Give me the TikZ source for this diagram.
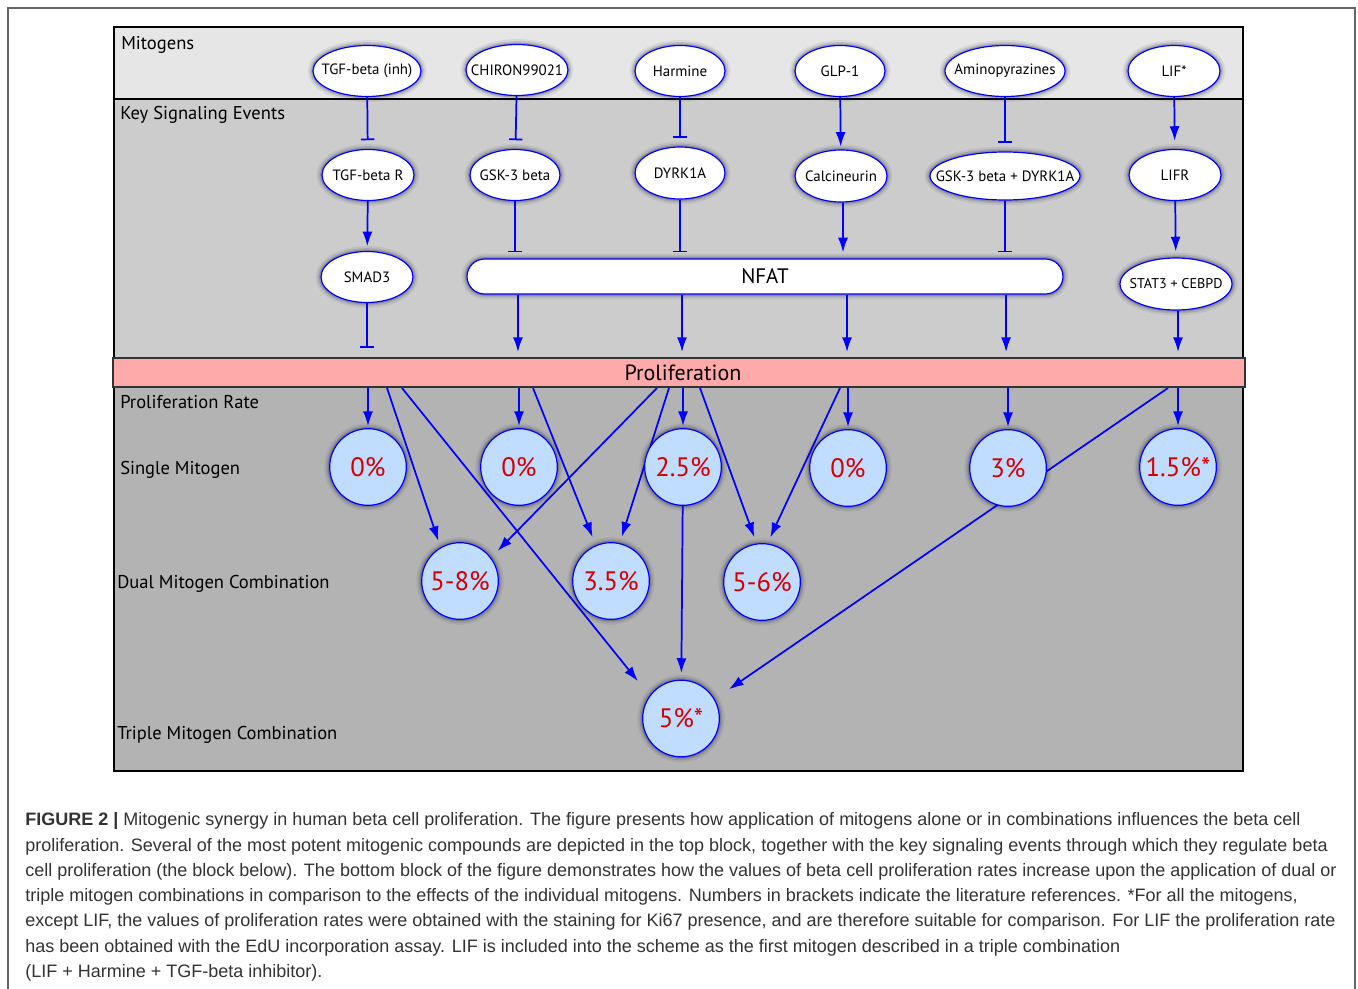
\documentclass[tikz,border=0pt]{standalone}
\usepackage{fontspec}
\setmainfont{Liberation Sans}
\newfontfamily\diag{PT Sans}
\usetikzlibrary{arrows.meta,shapes.geometric,shapes.misc}
\definecolor{topgray}{HTML}{E6E6E6}
\definecolor{midgray}{HTML}{CCCCCC}
\definecolor{botgray}{HTML}{B3B3B3}
\definecolor{prolifpink}{HTML}{FFAAAA}
\definecolor{circblue}{HTML}{C0DCFF}
\definecolor{pctred}{HTML}{D40000}
\definecolor{linkblue}{HTML}{0000FF}
\definecolor{captext}{HTML}{333333}
\definecolor{glowcol}{HTML}{1A1A40}
\newcommand\zw[1]{\makebox[0pt][c]{#1}}
\pgfdeclarelayer{back}
\pgfdeclarelayer{lines}
\pgfsetlayers{back,lines,main}
\begin{document}
\begin{tikzpicture}[x=0.75pt,y=-0.75pt,
  glow/.style={preaction={draw=glowcol,draw opacity=0.08,line width=8pt},
               preaction={draw=glowcol,draw opacity=0.13,line width=5pt},
               preaction={draw=glowcol,draw opacity=0.18,line width=2.8pt}},
  ell/.style={ellipse,draw=linkblue,line width=0.9pt,fill=white,inner sep=0pt,minimum height=38.25pt,font=\diag\fontsize{11.2}{13}\selectfont,glow},
  pct/.style={circle,draw=linkblue,line width=0.9pt,fill=circblue,inner sep=0pt,minimum size=57.5pt,text=pctred,font=\diag\fontsize{20}{22}\selectfont,glow},
  act/.style={draw=linkblue,line width=1.3pt,-{Latex[length=11pt,width=7.5pt]}},
  inh/.style={draw=linkblue,line width=1.3pt,-{Bar[width=10pt,line width=1.3pt]}},
  blocklabel/.style={anchor=base west,inner sep=0pt,font=\diag\fontsize{13.9}{16}\selectfont},
  caption/.style={anchor=base west,inner sep=0pt,text=captext,font=\fontsize{13.5}{16}\selectfont},
]
\useasboundingbox (0,0) rectangle (1358,988);
\begin{pgfonlayer}{back}
\fill[white] (0,0) rectangle (1358,988);
\draw[black!60,line width=1.5pt] (8,990) -- (8,8) -- (1355,8) -- (1355,990);
\draw[fill=topgray,line width=1.5pt] (114,27) rectangle (1243,99);
\draw[fill=midgray,line width=1.5pt] (114,99) rectangle (1243,358);
\draw[fill=botgray,line width=1.5pt] (114,387) rectangle (1243,771);
\end{pgfonlayer}

% Proliferation bar
\node[rectangle,draw=black!80,line width=1pt,fill=prolifpink,minimum width=849pt,minimum height=21.75pt,inner sep=0pt,font=\diag\fontsize{16.5}{18}\selectfont] (prolif) at (679,372.5) {\hspace*{6pt}Proliferation};

% block labels
\node[blocklabel] (lab1) at (121,50) {Mitogens};
\node[blocklabel] (lab2) at (120,120) {Key Signaling Events};
\node[blocklabel] (lab3) at (120,408) {Proliferation Rate};
\node[blocklabel] (lab4) at (120,474) {Single Mitogen};
\node[blocklabel] (lab5) at (117,588) {Dual Mitogen Combination};
\node[blocklabel] (lab6) at (117,739) {Triple Mitogen Combination};

% mitogens
\node[ell,minimum width=81pt] (m1) at (367,71) {\zw{TGF-beta (inh)}};
\node[ell,minimum width=76.5pt] (m2) at (517,70) {\zw{CHIRON99021}};
\node[ell,minimum width=67.5pt] (m3) at (680,71) {\zw{Harmine}};
\node[ell,minimum width=67.5pt] (m4) at (840,71) {\zw{GLP-1}};
\node[ell,minimum width=90pt] (m5) at (1005,71) {\zw{Aminopyrazines}};
\node[ell,minimum width=69pt] (m6) at (1174,71) {\zw{LIF*}};

% key signaling
\node[ell,minimum width=69pt] (k1) at (368,175) {\zw{TGF-beta R}};
\node[ell,minimum width=67.5pt] (k2) at (515,175) {\zw{GSK-3 beta}};
\node[ell,minimum width=67.5pt,minimum height=39pt] (k3) at (680,173) {\zw{DYRK1A}};
\node[ell,minimum width=69pt,minimum height=39pt] (k4) at (841,176) {\zw{Calcineurin}};
\node[ell,minimum width=112.5pt,minimum height=36pt] (k5) at (1005,176) {\zw{GSK-3 beta + DYRK1A}};
\node[ell,minimum width=69pt] (k6) at (1175,175) {\zw{LIFR}};

\node[ell,minimum width=69pt] (s1) at (367,277) {\zw{SMAD3}};
\node[rounded rectangle,draw=linkblue,line width=0.9pt,fill=white,inner sep=0pt,minimum width=447pt,minimum height=26.25pt,font=\diag\fontsize{15.7}{18}\selectfont,glow] (nfat) at (765,276.5) {NFAT};
\node[ell,minimum width=84pt,minimum height=39pt,font=\diag\fontsize{10.6}{12}\selectfont] (s3) at (1176,284) {\zw{STAT3 + CEBPD}};

% rate circles
\node[pct] (p1) at (368,467) {0\%};
\node[pct] (p2) at (519,467) {0\%};
\node[pct] (p3) at (683,467) {2.5\%};
\node[pct] (p4) at (848,468) {0\%};
\node[pct] (p5) at (1008,468) {3\%};
\node[pct] (p6) at (1178,467) {1.5\%*};
\node[pct] (d1) at (460,581) {5-8\%};
\node[pct] (d2) at (611,581) {3.5\%};
\node[pct] (d3) at (762,582) {5-6\%};
\node[pct] (tr) at (681,718.5) {5\%*};

% start points on the proliferation bar
\coordinate (a1) at (387,388);
\coordinate (a7) at (402,388);
\coordinate (a3) at (533,388);
\coordinate (a2) at (657,388);
\coordinate (a4) at (669,388);
\coordinate (a5) at (700,388);
\coordinate (a6) at (840,388);
\coordinate (a8) at (1168,388);

\begin{pgfonlayer}{lines}
% mitogens -> signaling
\draw[inh,shorten >=6.5pt] (m1) -- (k1);
\draw[inh,shorten >=6.5pt] (m2) -- (k2);
\draw[inh,shorten >=6.5pt] (m3) -- (k3);
\draw[act,shorten >=2pt] (m4) -- (k4);
\draw[inh,shorten >=6.5pt] (m5) -- (k5);
\draw[act,shorten >=6pt] (m6) -- (k6);
% signaling -> downstream
\draw[act,shorten >=3.5pt] (k1) -- (s1);
\draw[inh,shorten >=4.5pt] (k2.south) -- (k2.south |- nfat.north);
\draw[inh,shorten >=4.5pt] (k3.south) -- (k3.south |- nfat.north);
\draw[act,shorten >=4.5pt] ([xshift=1.5pt]k4.south) -- ([xshift=1.5pt]k4.south |- nfat.north);
\draw[inh,shorten >=4.5pt] (k5.south) -- (k5.south |- nfat.north);
\draw[act,shorten >=4.5pt] (k6) -- (s3);
% -> proliferation
\draw[inh,shorten >=7pt] (s1) -- (s1 |- prolif.north);
\draw[act,shorten >=4pt] ([xshift=2.2pt]k2.south |- nfat.south) -- ([xshift=2.2pt]k2.south |- prolif.north);
\draw[act,shorten >=4pt] ([xshift=1.5pt]k3.south |- nfat.south) -- ([xshift=1.5pt]k3.south |- prolif.north);
\draw[act,shorten >=4pt] ([xshift=4.5pt]k4.south |- nfat.south) -- ([xshift=4.5pt]k4.south |- prolif.north);
\draw[act,shorten >=4pt] ([xshift=0.8pt]k5.south |- nfat.south) -- ([xshift=0.8pt]k5.south |- prolif.north);
\draw[act,shorten >=4pt] ([xshift=1.5pt]s3.south) -- ([xshift=1.5pt]s3.south |- prolif.north);
% proliferation -> single
\foreach \c in {p1,p2,p3,p4,p5,p6}{
  \draw[act,shorten >=1.5pt] (prolif.south -| \c.north) -- (\c.north);
}
% dual combinations
\draw[act,shorten >=5pt] (a1) -- (d1.120);
\draw[act,shorten >=7pt] (a2) -- (d1.37);
\draw[act,shorten >=6.5pt] (a3) -- (d2.113);
\draw[act,shorten >=5pt] (a4) -- (d2.77);
\draw[act,shorten >=5pt] (a5) -- (d3.98);
\draw[act,shorten >=5pt] (a6) -- (d3.82);
% triple combination
\draw[act,shorten >=14pt] (a7) -- (tr.144);
\draw[act,shorten >=5pt] (p3) -- (tr);
\draw[act,shorten >=13pt] (a8) -- (tr.30);
\end{pgfonlayer}

% caption
\node[caption] (c1) at (25,825) {\textbf{FIGURE 2 |} Mitogenic synergy in human beta cell proliferation. The figure presents how application of mitogens alone or in combinations influences the beta cell};
\node[caption] (c2) at (25,851) {proliferation. Several of the most potent mitogenic compounds are depicted in the top block, together with the key signaling events through which they regulate beta};
\node[caption] (c3) at (25,876) {cell proliferation (the block below). The bottom block of the figure demonstrates how the values of beta cell proliferation rates increase upon the application of dual or};
\node[caption] (c4) at (25,901) {triple mitogen combinations in comparison to the effects of the individual mitogens. Numbers in brackets indicate the literature references. *For all the mitogens,};
\node[caption] (c5) at (25,926) {except LIF, the values of proliferation rates were obtained with the staining for Ki67 presence, and are therefore suitable for comparison. For LIF the proliferation rate};
\node[caption] (c6) at (25,952) {has been obtained with the EdU incorporation assay. LIF is included into the scheme as the first mitogen described in a triple combination};
\node[caption] (c7) at (25,977) {(LIF + Harmine + TGF-beta inhibitor).};
\end{tikzpicture}
\end{document}
